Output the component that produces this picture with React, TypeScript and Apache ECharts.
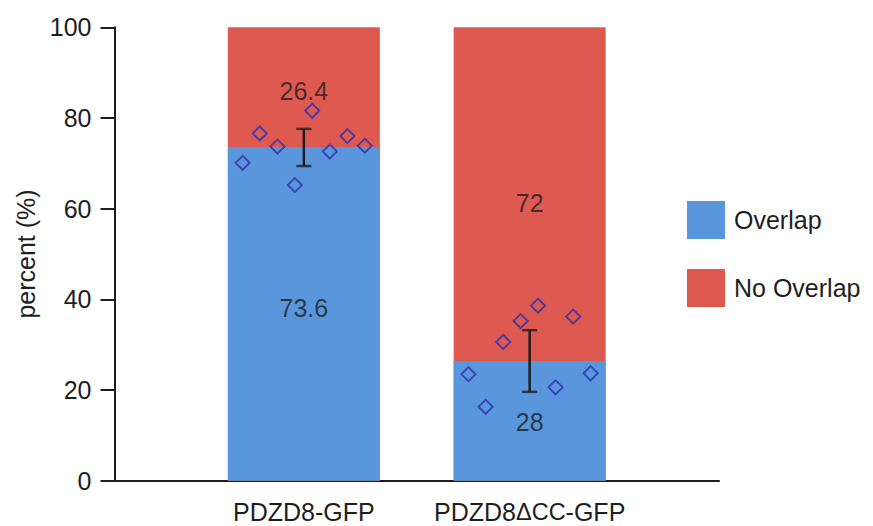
import React, { useEffect, useRef } from "react";
import * as echarts from "echarts";

const categories = ["PDZD8-GFP", "PDZD8ΔCC-GFP"];
const overlapPct = [73.6, 26.4];
const noOverlapPct = [26.4, 73.6];
const overlapLabels = ["73.6", "28"];
const noOverlapLabels = ["26.4", "72"];
const pdzd8Points = [70.1, 76.6, 73.7, 65.2, 81.6, 72.6, 76.0, 73.9];
const dccPoints = [23.5, 16.3, 30.6, 35.2, 38.6, 20.6, 36.2, 23.7];
const jitter = [-0.271, -0.195, -0.117, -0.04, 0.037, 0.115, 0.193, 0.27];
const errMean = [73.5, 26.4];
const errHalf = [4.1, 6.8];
const yTicks = [0, 20, 40, 60, 80, 100];

const FONT = "Liberation Sans";
const TXT = "#1E1E1E";
const BLUE = "#5A96DC";
const RED = "#DE5A50";

export default function App() {
  const ref = useRef<HTMLDivElement>(null);
  useEffect(() => {
    const chart = echarts.init(ref.current!, null, { renderer: "svg" });
    const pointSets = [pdzd8Points, dccPoints];
    const scatterData: number[][] = [];
    pointSets.forEach((pts, ci) =>
      pts.forEach((v, i) => scatterData.push([ci + jitter[i], v]))
    );
    const overlapLabelY = overlapPct.map((v, i) => [i, v / 2]);
    const noOverlapLabelY = noOverlapPct.map((v, i) => [i, overlapPct[i] + v / 2]);
    const overlapOffsets = [-6, 1];
    const noOverlapOffsets = [4, 9];
    const labelStyle = { fontSize: 25, color: TXT, fontFamily: FONT };
    const capData: number[][] = [];
    errMean.forEach((m, i) => {
      capData.push([i, m - errHalf[i]]);
      capData.push([i, m + errHalf[i]]);
    });
    const stemSeries = errMean.map((m, i) => ({
      name: "stem" + i,
      type: "line",
      symbol: "none",
      silent: true,
      z: 6,
      lineStyle: { color: TXT, width: 2.5 },
      data: [
        [i, m - errHalf[i]],
        [i, m + errHalf[i]],
      ],
    }));
    chart.setOption({
      animation: false,
      textStyle: { fontFamily: FONT },
      grid: { left: 114.5, right: 154, top: 27.3, bottom: 45.3, containLabel: false },
      legend: {
        data: ["Overlap", "No Overlap"],
        orient: "vertical",
        left: 682,
        top: 196,
        itemWidth: 38,
        itemHeight: 38,
        itemGap: 30,
        icon: "rect",
        textStyle: { fontSize: 25, color: TXT, fontFamily: FONT, padding: [0, 0, 0, 4] },
      },
      xAxis: {
        type: "value",
        min: -0.8385,
        max: 1.8385,
        splitLine: { show: false },
        axisTick: { show: false },
        axisLine: { onZero: false, lineStyle: { color: TXT, width: 2 } },
        axisLabel: {
          customValues: [0, 1],
          margin: 19,
          color: TXT,
          fontSize: 25,
          fontFamily: FONT,
          formatter: (v: number) => {
            const idx = Math.round(v);
            const name = categories[idx] ?? "";
            if (name.includes("Δ")) {
              const [pre, post] = name.split("ΔCC");
              return `{a|${pre}}{b|ΔCC}{a|${post}}`;
            }
            return `{a|${name}}`;
          },
          rich: {
            a: { fontSize: 25, color: TXT, fontFamily: FONT },
            b: { fontSize: 23.5, color: TXT, fontFamily: FONT },
          },
        },
      },
      yAxis: {
        type: "value",
        min: yTicks[0],
        max: yTicks[yTicks.length - 1],
        interval: 20,
        name: "percent (%)",
        nameLocation: "middle",
        nameGap: 76,
        nameTextStyle: { fontSize: 25, color: TXT, fontFamily: FONT },
        splitLine: { show: false },
        axisLine: { show: true, onZero: false, lineStyle: { color: TXT, width: 2 } },
        axisTick: { show: true, length: 14, lineStyle: { color: TXT, width: 2 } },
        axisLabel: { margin: 23, color: TXT, fontSize: 25, fontFamily: FONT },
      },
      series: [
        {
          name: "No Overlap",
          type: "bar",
          barWidth: 152,
          barGap: "-100%",
          itemStyle: { color: RED },
          data: noOverlapPct.map((v, i) => [i, overlapPct[i] + v]),
          z: 2,
        },
        {
          name: "Overlap",
          type: "bar",
          barWidth: 152,
          barGap: "-100%",
          itemStyle: { color: BLUE },
          data: overlapPct.map((v, i) => [i, v]),
          z: 3,
        },
        {
          name: "labels",
          type: "scatter",
          symbolSize: 1,
          itemStyle: { color: "rgba(0,0,0,0)" },
          silent: true,
          z: 4,
          data: [
            ...overlapLabelY.map((p, i) => ({
              value: p,
              label: { show: true, position: "inside", offset: [0, overlapOffsets[i]], formatter: overlapLabels[i], ...labelStyle },
            })),
            ...noOverlapLabelY.map((p, i) => ({
              value: p,
              label: { show: true, position: "inside", offset: [0, noOverlapOffsets[i]], formatter: noOverlapLabels[i], ...labelStyle },
            })),
          ],
        },
        {
          name: "points",
          type: "scatter",
          symbol: "rect",
          symbolSize: 10,
          symbolRotate: 45,
          itemStyle: { color: "rgba(0,0,0,0)", borderColor: "#2F2FAE", borderWidth: 1.9 },
          data: scatterData,
          z: 5,
        },
        ...stemSeries,
        {
          name: "caps",
          type: "scatter",
          symbol: "rect",
          symbolSize: [15, 2.5],
          silent: true,
          itemStyle: { color: TXT },
          data: capData,
          z: 6,
        },
      ],
    });
    return () => chart.dispose();
  }, []);
  return (
    <div
      ref={ref}
      style={{ position: "fixed", left: 0, top: 0, width: 873, height: 526, background: "#fff" }}
    />
  );
}
